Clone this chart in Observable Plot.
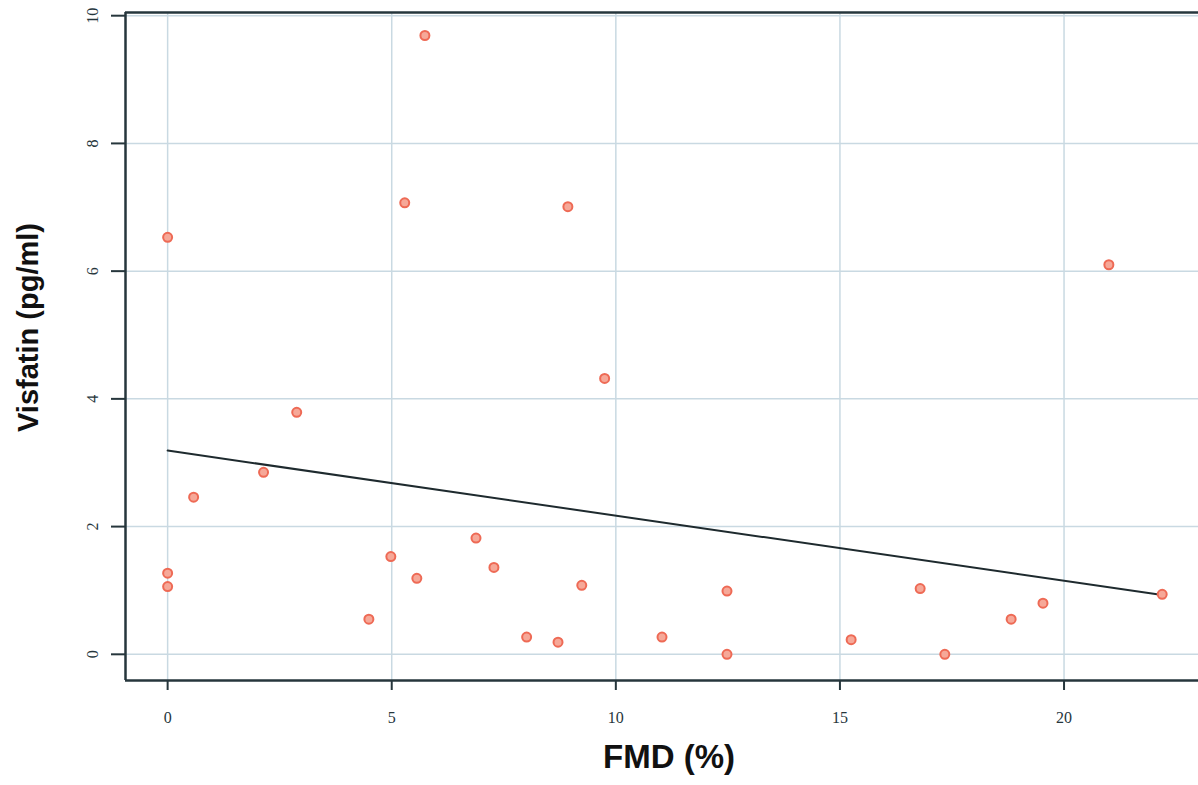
<!DOCTYPE html>
<html>
<head>
<meta charset="utf-8">
<script src="https://cdn.jsdelivr.net/npm/d3@7"></script>
<script src="https://cdn.jsdelivr.net/npm/@observablehq/plot@0.6"></script>
<style>
  html, body { margin: 0; padding: 0; background: #fff; }
  #chart svg { display: block; }
</style>
</head>
<body>
<div id="chart"></div>
<script>
// FMD (%) values
const fmd = [0, 0, 0, 0.58, 2.14, 2.88, 4.49, 4.98, 5.29, 5.56, 5.74, 6.88, 7.28, 8.01,
             8.71, 8.93, 9.24, 9.75, 11.03, 12.48, 12.48, 15.25, 16.79, 17.34, 18.82, 19.53, 21.0, 22.19];
// Visfatin (pg/ml) values
const visfatin = [6.53, 1.27, 1.06, 2.46, 2.85, 3.79, 0.55, 1.53, 7.07, 1.19, 9.69, 1.82, 1.36, 0.27,
                  0.19, 7.01, 1.08, 4.32, 0.27, 0.99, 0.0, 0.23, 1.03, 0.0, 0.55, 0.80, 6.10, 0.94];
// fitted regression line end points
const fitX = [0, 22.19];
const fitY = [3.19, 0.93];

const xTicks = [0, 5, 10, 15, 20];
const yTicks = [0, 2, 4, 6, 8, 10];
const xDomain = [-0.94, 23.0];
const yDomain = [-0.41, 10.05];

const points = fmd.map((x, i) => ({x, y: visfatin[i]}));
const fit = fitX.map((x, i) => ({x, y: fitY[i]}));

const axisColor = "#26363c";
const gridColor = "#c9d9e2";
const pointColor = "#ee6a55";

const chart = Plot.plot({
  width: 1198,
  height: 785,
  marginLeft: 125,
  marginTop: 12,
  marginBottom: 105,
  marginRight: 0,
  style: {fontFamily: "'Liberation Serif', 'DejaVu Serif', serif", fontSize: "16px", color: axisColor, background: "#fff"},
  x: {domain: xDomain, ticks: xTicks, label: null},
  y: {domain: yDomain, ticks: yTicks, label: null},
  marks: [
    Plot.gridX(xTicks, {stroke: gridColor, strokeOpacity: 1, strokeWidth: 1.5}),
    Plot.gridY(yTicks, {stroke: gridColor, strokeOpacity: 1, strokeWidth: 1.5}),
    Plot.axisX(xTicks, {label: null, tickSize: 10, tickPadding: 21, stroke: axisColor, strokeWidth: 2, fill: axisColor, fontSize: 16}),
    Plot.axisY(yTicks, {label: null, tickSize: 14, tickFormat: () => "", stroke: axisColor, strokeWidth: 2}),
    Plot.text(yTicks, {x: () => xDomain[0], y: d => d, text: d => String(d), rotate: -90, dx: -33, fill: axisColor, fontSize: 16, textAnchor: "middle", lineAnchor: "middle"}),
    Plot.ruleX([xDomain[0]], {stroke: axisColor, strokeWidth: 2.5}),
    Plot.ruleY([yDomain[0], yDomain[1]], {stroke: axisColor, strokeWidth: 2.5}),
    Plot.line(fit, {x: "x", y: "y", stroke: "#1e2a2e", strokeWidth: 2}),
    Plot.dot(points, {x: "x", y: "y", r: 4.5, fill: "#f6a898", stroke: pointColor, strokeWidth: 2}),
    Plot.text(["FMD (%)"], {frameAnchor: "bottom", dx: 7, dy: 87, fontSize: 33, fontWeight: "bold", fontFamily: "'Liberation Sans', Arial, sans-serif", fill: "#111", textAnchor: "middle"}),
    Plot.text(["Visfatin (pg/ml)"], {frameAnchor: "left", dx: -97, dy: -19, rotate: -90, fontSize: 29, fontWeight: "bold", fontFamily: "'Liberation Sans', Arial, sans-serif", fill: "#111", textAnchor: "middle"})
  ]
});
document.getElementById("chart").appendChild(chart);
</script>
</body>
</html>
